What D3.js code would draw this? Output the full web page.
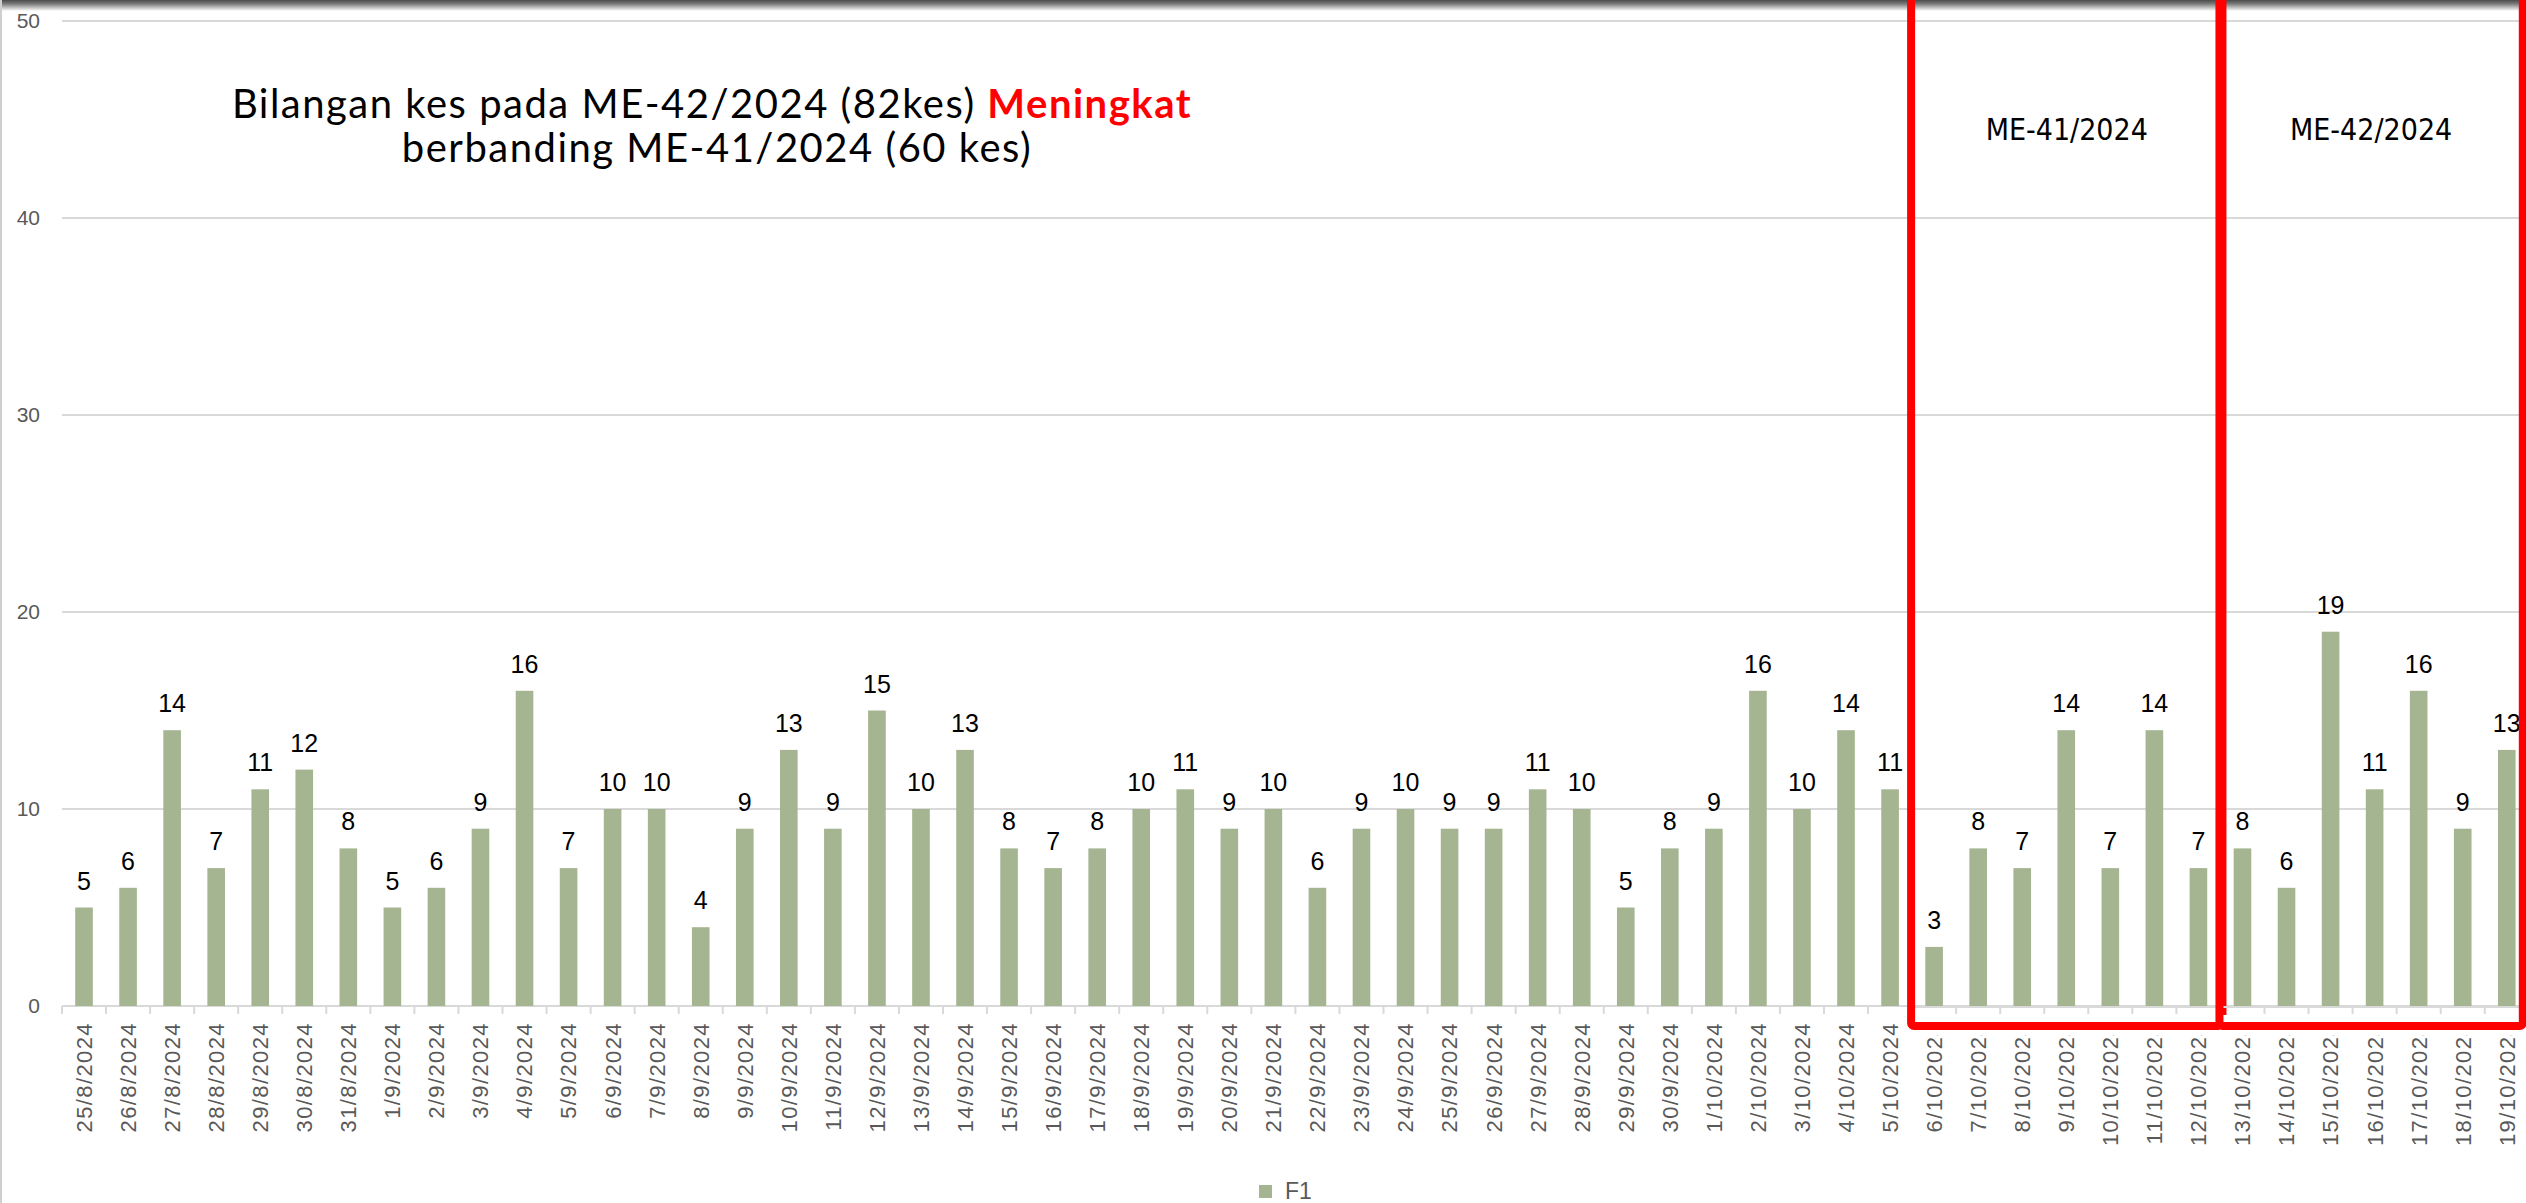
<!DOCTYPE html>
<html>
<head>
<meta charset="utf-8">
<script src="https://cdn.jsdelivr.net/npm/d3@7"></script>
<style>
  body { margin: 0; background: #fff; overflow: hidden; }
  svg { display: block; }
</style>
</head>
<body>
<div id="canvas"></div>
<script>
// data
var dates = [
  '25/8/2024','26/8/2024','27/8/2024','28/8/2024','29/8/2024','30/8/2024','31/8/2024',
  '1/9/2024','2/9/2024','3/9/2024','4/9/2024','5/9/2024','6/9/2024','7/9/2024','8/9/2024',
  '9/9/2024','10/9/2024','11/9/2024','12/9/2024','13/9/2024','14/9/2024','15/9/2024',
  '16/9/2024','17/9/2024','18/9/2024','19/9/2024','20/9/2024','21/9/2024','22/9/2024',
  '23/9/2024','24/9/2024','25/9/2024','26/9/2024','27/9/2024','28/9/2024','29/9/2024','30/9/2024',
  '1/10/2024','2/10/2024','3/10/2024','4/10/2024','5/10/2024','6/10/2024','7/10/2024',
  '8/10/2024','9/10/2024','10/10/2024','11/10/2024','12/10/2024','13/10/2024','14/10/2024',
  '15/10/2024','16/10/2024','17/10/2024','18/10/2024','19/10/2024'
];
var cases = [
  5, 6, 14, 7, 11, 12, 8,
  5, 6, 9, 16, 7, 10, 10, 4,
  9, 13, 9, 15, 10, 13, 8,
  7, 8, 10, 11, 9, 10, 6,
  9, 10, 9, 9, 11, 10, 5, 8,
  9, 16, 10, 14, 11, 3, 8,
  7, 14, 7, 14, 7, 8, 6,
  19, 11, 16, 9, 13
];
var yTicks = [0, 10, 20, 30, 40, 50];
var seriesName = 'F1';
var weeks = [
  { label: 'ME-41/2024', from: '6/10/2024', to: '12/10/2024' },
  { label: 'ME-42/2024', from: '13/10/2024', to: '19/10/2024' }
];
var titleLine1 = 'Bilangan kes pada ME-42/2024 (82kes) ';
var titleLine1Red = 'Meningkat';
var titleLine2 = 'berbanding ME-41/2024 (60 kes)';

var W = 2526, H = 1203;
var barColor = '#a5b592';
var gridColor = '#d9d9d9';
var axisText = '#595959';

var svg = d3.select('#canvas').append('svg')
  .attr('width', W)
  .attr('height', H);

var defs = svg.append('defs');
var grad = defs.append('linearGradient').attr('id', 'topShade')
  .attr('x1', 0).attr('y1', 0).attr('x2', 0).attr('y2', 1);
grad.append('stop').attr('offset', '0%').attr('stop-color', '#4a4a4a');
grad.append('stop').attr('offset', '35%').attr('stop-color', '#7a7a7a');
grad.append('stop').attr('offset', '100%').attr('stop-color', '#ffffff');

svg.append('rect').attr('width', W).attr('height', H).attr('fill', '#fff');

var xStart = 62, step = 44.05;
var x = d3.scaleBand()
  .domain(dates)
  .range([xStart, xStart + step * dates.length])
  .paddingInner(0.6)
  .paddingOuter(0.3);
var y = d3.scaleLinear().domain([0, 50]).range([1006, 21]);

var bw = x.bandwidth();
var gap = (x.step() - bw) / 2;
function leftEdge(d) { return x(d) - gap; }

// gridlines
svg.append('g').selectAll('line')
  .data(yTicks.filter(function (t) { return t > 0; }))
  .enter().append('line')
  .attr('x1', xStart).attr('x2', W)
  .attr('y1', function (d) { return y(d); })
  .attr('y2', function (d) { return y(d); })
  .attr('stroke', gridColor).attr('stroke-width', 2);

// y axis labels
var yAxis = svg.append('g')
  .attr('transform', 'translate(40,0)')
  .call(d3.axisLeft(y).tickValues(yTicks).tickSize(0).tickPadding(0));
yAxis.select('.domain').remove();
yAxis.selectAll('text')
  .attr('fill', axisText)
  .style('font', '21px "Liberation Sans", Arial, sans-serif');

// x axis baseline
svg.append('line')
  .attr('x1', xStart).attr('x2', W)
  .attr('y1', y(0)).attr('y2', y(0))
  .attr('stroke', gridColor).attr('stroke-width', 2);

// tick marks at category boundaries
svg.append('g').selectAll('line')
  .data(dates)
  .enter().append('line')
  .attr('x1', function (d) { return leftEdge(d); })
  .attr('x2', function (d) { return leftEdge(d); })
  .attr('y1', y(0)).attr('y2', y(0) + 8)
  .attr('stroke', gridColor).attr('stroke-width', 2);

// x axis labels
var xAxis = svg.append('g')
  .attr('transform', 'translate(0,' + (y(0) + 16) + ')')
  .call(d3.axisBottom(x).tickSize(0).tickPadding(0));
xAxis.select('.domain').remove();
xAxis.selectAll('text')
  .attr('fill', axisText)
  .attr('transform', 'rotate(-90)')
  .attr('x', 0).attr('y', 0).attr('dy', '0.36em')
  .style('text-anchor', 'end')
  .style('letter-spacing', '1.4px')
  .style('font', '22px "Liberation Sans", Arial, sans-serif');

// bars
svg.append('g').selectAll('rect')
  .data(cases)
  .enter().append('rect')
  .attr('x', function (d, i) { return x(dates[i]); })
  .attr('y', function (d) { return y(d); })
  .attr('width', bw)
  .attr('height', function (d) { return y(0) - y(d); })
  .attr('fill', barColor);

// data labels
svg.append('g').selectAll('text')
  .data(cases)
  .enter().append('text')
  .attr('x', function (d, i) { return x(dates[i]) + bw / 2; })
  .attr('y', function (d) { return y(d) - 18; })
  .attr('text-anchor', 'middle')
  .attr('fill', '#000')
  .style('font', '25px "Liberation Sans", Arial, sans-serif')
  .text(function (d) { return d; });

// top shadow of the slide
svg.append('rect').attr('x', 0).attr('y', 0).attr('width', W).attr('height', 11)
  .attr('fill', 'url(#topShade)');
// left border
svg.append('line').attr('x1', 1).attr('x2', 1).attr('y1', 0).attr('y2', H)
  .attr('stroke', '#cfcfcf').attr('stroke-width', 2);

// title
var titleFont = '40px Lato, "Open Sans", sans-serif';
var title = svg.append('text')
  .attr('x', 712).attr('y', 118)
  .attr('text-anchor', 'middle')
  .style('font', titleFont)
  .style('letter-spacing', '1.5px')
  .attr('fill', '#000');
title.append('tspan').text(titleLine1);
title.append('tspan').attr('fill', '#ff0000').attr('font-weight', 'bold').text(titleLine1Red);
svg.append('text')
  .attr('x', 717).attr('y', 162)
  .attr('text-anchor', 'middle')
  .style('font', titleFont)
  .style('letter-spacing', '1.5px')
  .attr('fill', '#000')
  .text(titleLine2);

// week boxes
var boxBottom = 1026;
var lastEnd = leftEdge(dates[dates.length - 1]) + x.step() - 6;
weeks.forEach(function (w, i) {
  var x0 = leftEdge(w.from) - 1;
  var x1 = (i === weeks.length - 1) ? lastEnd : leftEdge(w.to) + x.step() + 2;
  svg.append('rect')
    .attr('x', x0).attr('y', boxBottom - 11)
    .attr('width', x1 - x0).attr('height', 20)
    .attr('fill', '#fff');
  svg.append('line')
    .attr('x1', leftEdge(w.from)).attr('x2', x1)
    .attr('y1', y(0) + 1).attr('y2', y(0) + 1)
    .attr('stroke', gridColor).attr('stroke-width', 2);
  svg.append('rect')
    .attr('x', x0).attr('y', -6)
    .attr('width', x1 - x0).attr('height', boxBottom + 6)
    .attr('rx', 3)
    .attr('fill', 'none')
    .attr('stroke', '#ff0000').attr('stroke-width', 8);
  svg.append('text')
    .attr('x', (x0 + x1) / 2).attr('y', 140)
    .attr('text-anchor', 'middle')
    .attr('fill', '#000')
    .style('font', '30px "DejaVu Sans Condensed", "Liberation Sans Narrow", sans-serif')
    .text(w.label);
});

// legend
var legend = svg.append('g').attr('transform', 'translate(1259,1185)');
legend.append('rect').attr('width', 13).attr('height', 13).attr('fill', barColor);
legend.append('text').attr('x', 26).attr('y', 14)
  .attr('fill', axisText)
  .style('font', '23px "Liberation Sans", Arial, sans-serif')
  .text(seriesName);
</script>
</body>
</html>
